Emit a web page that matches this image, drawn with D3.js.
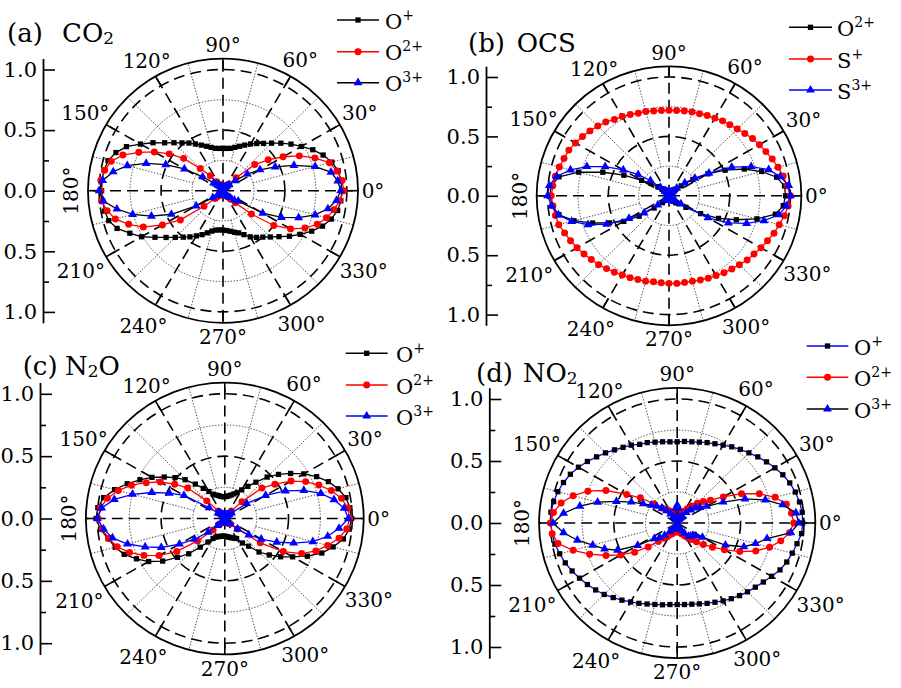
<!DOCTYPE html>
<html><head><meta charset="utf-8">
<script src="https://cdn.jsdelivr.net/npm/d3@7"></script>
<style>body{margin:0;background:#fff}svg{display:block}</style>
</head><body>
<svg id="c" width="901" height="688"></svg>
<script>
// ---------------- DATA ----------------
const angles = d3.range(0, 360, 5);               // polar angle (deg) of every sample
const radialTicks = [-1, -0.5, 0, 0.5, 1];
const radialMinor = [-0.75, -0.25, 0.25, 0.75];
const angleLabels = [0, 30, 60, 90, 120, 150, 180, 210, 240, 270, 300, 330];
const dashedSpokes = [0, 30, 60, 90, 120, 150, 180, 210, 240, 270, 300, 330];
const dottedSpokes = [15, 45, 75, 105, 135, 165, 195, 225, 255, 285, 315, 345];
const dashedRings = [0.5, 1.0];
const dottedRings = [0.25, 0.75];

// (a) CO2
const aOp = [.96,.955,.945,.91,.86,.80,.73,.67,.61,.555,.51,.475,.445,.415,.39,.37,.355,.35,
             .35,.35,.355,.37,.39,.415,.445,.48,.515,.56,.615,.69,.77,.86,.92,.96,.975,.98,
             .98,.975,.97,.955,.91,.83,.76,.67,.60,.545,.50,.465,.43,.40,.37,.345,.33,.325,
             .325,.33,.34,.355,.37,.40,.44,.47,.50,.54,.59,.655,.72,.79,.855,.905,.94,.955];
const aO2 = [.975,.965,.935,.89,.79,.68,.56,.445,.335,.15,.07,.05,.04,.035,.03,.03,.03,.03,
             .03,.03,.03,.035,.04,.05,.06,.09,.16,.26,.415,.53,.64,.75,.86,.935,.97,.99,
             .99,.985,.95,.90,.81,.71,.565,.42,.20,.09,.06,.045,.04,.035,.03,.03,.03,.03,
             .03,.03,.03,.03,.035,.04,.045,.06,.09,.14,.30,.50,.63,.73,.81,.865,.91,.945];
const aO3 = [.95,.93,.885,.77,.61,.465,.345,.24,.13,.07,.05,.04,.035,.03,.03,.025,.025,.025,
             .025,.025,.025,.03,.03,.035,.04,.05,.06,.08,.10,.20,.36,.51,.66,.80,.90,.975,
             1.0,.97,.87,.755,.615,.46,.25,.10,.06,.045,.04,.035,.03,.03,.025,.025,.025,.025,
             .025,.025,.025,.03,.03,.035,.04,.05,.06,.08,.12,.15,.37,.52,.65,.77,.86,.92];
// (b) OCS
const bO2 = [.96,.955,.90,.79,.66,.51,.37,.24,.13,.07,.05,.04,.035,.03,.03,.025,.025,.025,
             .025,.025,.025,.03,.03,.035,.04,.05,.06,.08,.12,.18,.26,.41,.58,.77,.92,.975,
             .98,.965,.92,.81,.67,.54,.43,.30,.16,.08,.05,.04,.035,.03,.025,.025,.025,.025,
             .025,.025,.025,.03,.03,.035,.04,.05,.06,.08,.10,.17,.30,.45,.59,.75,.89,.945];
const bSp = [1.0,.975,.955,.93,.905,.88,.86,.84,.815,.795,.78,.77,.755,.745,.735,.73,.725,.72,
             .72,.72,.725,.735,.74,.755,.77,.785,.81,.83,.85,.87,.89,.91,.92,.935,.95,.96,
             .97,.96,.95,.94,.915,.895,.875,.855,.835,.82,.80,.785,.77,.76,.75,.745,.735,.735,
             .737,.74,.74,.745,.755,.765,.775,.79,.805,.82,.84,.855,.875,.895,.92,.94,.965,.985];
const bS3 = [1.0,.99,.93,.85,.72,.57,.38,.26,.17,.09,.05,.04,.035,.03,.03,.025,.025,.025,
             .025,.025,.025,.03,.03,.035,.04,.05,.05,.10,.20,.31,.435,.58,.72,.84,.94,.99,
             1.0,.97,.925,.83,.71,.567,.38,.25,.12,.05,.045,.04,.035,.03,.025,.025,.025,.025,
             .025,.025,.025,.03,.03,.035,.04,.045,.05,.06,.07,.12,.37,.54,.68,.81,.92,.97];
// (c) N2O
const cOp = [.995,.985,.965,.92,.865,.795,.715,.63,.55,.47,.38,.315,.265,.23,.21,.195,.185,.178,
             .175,.175,.18,.19,.20,.215,.25,.295,.36,.44,.51,.58,.66,.735,.815,.895,.965,1.0,
             1.01,.98,.93,.89,.84,.765,.69,.595,.485,.40,.30,.23,.185,.165,.155,.148,.145,.142,
             .142,.145,.15,.157,.165,.175,.185,.24,.29,.38,.455,.535,.615,.715,.81,.88,.945,.98];
const cO2 = [.98,.97,.93,.865,.785,.70,.60,.48,.38,.19,.08,.05,.04,.035,.03,.03,.03,.03,
             .03,.03,.03,.03,.035,.04,.045,.055,.08,.20,.38,.48,.585,.68,.78,.865,.935,.98,
             .995,.965,.925,.875,.795,.70,.595,.46,.28,.13,.06,.04,.035,.03,.03,.03,.03,.03,
             .03,.03,.03,.03,.03,.035,.04,.045,.05,.06,.13,.34,.53,.665,.76,.835,.91,.96];
const cO3 = [.97,.94,.87,.78,.66,.525,.37,.21,.07,.05,.04,.035,.03,.03,.025,.025,.025,.025,
             .025,.025,.025,.025,.025,.03,.035,.04,.05,.06,.07,.15,.37,.48,.61,.75,.88,.97,
             1.0,.955,.895,.79,.665,.55,.41,.29,.17,.08,.05,.04,.035,.03,.025,.025,.025,.025,
             .025,.025,.025,.025,.03,.03,.035,.04,.045,.06,.13,.23,.33,.45,.575,.715,.82,.90];
// (d) NO2
const dOp = [.99,.99,.98,.965,.945,.92,.89,.86,.83,.80,.775,.75,.725,.705,.69,.675,.665,.66,
             .655,.657,.665,.675,.69,.70,.725,.745,.77,.80,.83,.865,.90,.93,.955,.975,.99,1.0,
             1.0,.99,.98,.96,.94,.915,.89,.865,.84,.815,.785,.76,.735,.715,.695,.68,.67,.66,
             .658,.66,.665,.675,.69,.705,.725,.745,.765,.785,.805,.83,.86,.895,.92,.94,.96,.985];
const dO2 = [.92,.905,.875,.80,.69,.56,.42,.32,.27,.225,.18,.14,.11,.10,.09,.08,.075,.07,
             .07,.07,.075,.08,.09,.10,.11,.125,.145,.17,.24,.355,.46,.62,.75,.85,.93,.98,
             1.0,.99,.955,.85,.735,.62,.515,.41,.30,.21,.16,.135,.11,.095,.085,.075,.07,.07,
             .07,.07,.075,.08,.09,.10,.12,.145,.175,.215,.27,.34,.43,.545,.66,.755,.83,.89];
const dO3 = [.96,.94,.845,.72,.57,.40,.27,.22,.19,.15,.11,.07,.05,.04,.035,.03,.05,.12,
             .145,.12,.04,.03,.035,.04,.06,.09,.13,.17,.21,.25,.31,.40,.51,.65,.78,.90,
             .98,.90,.80,.69,.61,.52,.36,.22,.18,.14,.09,.06,.045,.035,.03,.03,.03,.03,
             .03,.03,.03,.035,.04,.05,.07,.10,.14,.15,.16,.18,.23,.42,.56,.64,.72,.90];

const ionsA = [['O','+'], ['O','2+'], ['O','3+']];
const ionsB = [['O','2+'], ['S','+'], ['S','3+']];
const ionsC = [['O','+'], ['O','2+'], ['O','3+']];
const ionsD = [['O','+'], ['O','2+'], ['O','3+']];

// ---------------- LAYOUT ----------------
const RED = '#ff0000', BLUE = '#0000ff', BLK = '#000000';
const FONT = "'DejaVu Serif', 'Liberation Serif', serif";
const rMax = 1.09, ASPECT = 1.022;
// distance (px) between outer circle and the centre of each angle label
const labelGap = {0:15, 30:23, 60:19.5, 90:14, 120:17.5, 150:24, 180:17, 210:29, 240:24, 270:14, 300:22, 330:27.5};

const panels = [
  {cx:223, cy:190.7, ry:121.2, axisX:43, tag:'(a)', tagX:7, fX:62, tY:41.5,
   formula:[['CO',0],['2',1]], ions:ionsA,
   leg:{x0:337, x1:379, tx:385, ys:[20, 51.7, 82.7]},
   series:[{d:aOp, line:BLK, mark:BLK, sym:'sq'},{d:aO2, line:RED, mark:RED, sym:'ci'},{d:aO3, line:BLK, mark:BLUE, sym:'tr'}]},
  {cx:669, cy:195.8, ry:118.8, axisX:486, tag:'(b)', tagX:468, fX:516.7, tY:51.5,
   formula:[['OCS',0]], ions:ionsB,
   leg:{x0:789, x1:832, tx:837, ys:[27.3, 59, 90]},
   series:[{d:bO2, line:BLK, mark:BLK, sym:'sq'},{d:bSp, line:RED, mark:RED, sym:'ci'},{d:bS3, line:BLUE, mark:BLUE, sym:'tr'}]},
  {cx:224.8, cy:518.5, ry:124.7, axisX:40, tag:'(c)', tagX:22.7, fX:65, tY:375,
   formula:[['N',0],['2',1],['O',0]], ions:ionsC,
   leg:{x0:345.7, x1:387.7, tx:396, ys:[353.3, 385, 416]},
   series:[{d:cOp, line:BLK, mark:BLK, sym:'sq'},{d:cO2, line:RED, mark:RED, sym:'ci'},{d:cO3, line:BLUE, mark:BLUE, sym:'tr'}]},
  {cx:677.2, cy:523, ry:124, axisX:489.3, tag:'(d)', tagX:476, fX:522.7, tY:381.7,
   formula:[['NO',0],['2',1]], ions:ionsD,
   leg:{x0:806.7, x1:848.3, tx:854, ys:[346, 377.3, 409]},
   series:[{d:dOp, line:BLUE, mark:BLK, sym:'sq'},{d:dO2, line:RED, mark:RED, sym:'ci'},{d:dO3, line:BLK, mark:BLUE, sym:'tr'}]}
];

const svg = d3.select('#c');
const symbols = {
  sq: d3.symbol().type(d3.symbolSquare).size(28),
  ci: d3.symbol().type(d3.symbolCircle).size(38),
  tr: d3.symbol().type(d3.symbolTriangle).size(34)
};
const rad = a => a * Math.PI / 180;

function drawPanel(P) {
  const g = svg.append('g');
  const uy = P.ry, ux = P.ry * ASPECT;
  const X = d3.scaleLinear().domain([-rMax, rMax]).range([P.cx - ux*rMax, P.cx + ux*rMax]);
  const Y = d3.scaleLinear().domain([-rMax, rMax]).range([P.cy + uy*rMax, P.cy - uy*rMax]);
  const px = (r, a) => X(r * Math.cos(rad(a)));
  const py = (r, a) => Y(r * Math.sin(rad(a)));

  const grid = g.append('g');
  dottedRings.forEach(r => grid.append('ellipse').attr('cx', P.cx).attr('cy', P.cy)
    .attr('rx', ux*r).attr('ry', uy*r).attr('fill','none').attr('stroke','#222')
    .attr('stroke-width',0.8).attr('stroke-dasharray','1.4,1.6'));
  dottedSpokes.forEach(a => grid.append('line')
    .attr('x1', px(0.25,a)).attr('y1', py(0.25,a)).attr('x2', px(rMax,a)).attr('y2', py(rMax,a))
    .attr('stroke','#222').attr('stroke-width',0.8).attr('stroke-dasharray','1.4,1.6'));
  dashedRings.forEach(r => grid.append('ellipse').attr('cx', P.cx).attr('cy', P.cy)
    .attr('rx', ux*r).attr('ry', uy*r).attr('fill','none').attr('stroke','#000')
    .attr('stroke-width',1.6).attr('stroke-dasharray','11,6'));
  dashedSpokes.forEach(a => grid.append('line')
    .attr('x1', px(0,a)).attr('y1', py(0,a)).attr('x2', px(rMax,a)).attr('y2', py(rMax,a))
    .attr('stroke','#000').attr('stroke-width',1.6).attr('stroke-dasharray','11,6'));
  angleLabels.forEach(a => grid.append('line')
    .attr('x1', px(rMax,a)).attr('y1', py(rMax,a)).attr('x2', px(rMax-0.09,a)).attr('y2', py(rMax-0.09,a))
    .attr('stroke','#000').attr('stroke-width',1.6));
  g.append('ellipse').attr('cx', P.cx).attr('cy', P.cy).attr('rx', ux*rMax).attr('ry', uy*rMax)
    .attr('fill','none').attr('stroke','#000').attr('stroke-width',1.8);

  // left radial axis
  const ax = g.append('g').attr('transform', `translate(${P.axisX},0)`)
    .call(d3.axisLeft(Y).tickValues(radialTicks).tickFormat(d => d3.format('.1f')(Math.abs(d)))
      .tickSizeInner(-12).tickSizeOuter(0).tickPadding(6));
  ax.attr('font-family', FONT).attr('font-size', 21);
  ax.select('.domain').attr('stroke-width', 1.8);
  ax.selectAll('.tick line').attr('stroke-width', 1.6);
  const axm = g.append('g').attr('transform', `translate(${P.axisX},0)`)
    .call(d3.axisLeft(Y).tickValues(radialMinor).tickFormat('').tickSizeInner(-6).tickSizeOuter(0));
  axm.select('.domain').remove();
  axm.selectAll('.tick line').attr('stroke-width', 1.6);

  // angle labels
  angleLabels.forEach(a => {
    const t = g.append('text').attr('font-family', FONT).attr('font-size', 20)
      .attr('text-anchor','middle').text(a + '°');
    const c = Math.cos(rad(a)), s = Math.sin(rad(a)), gap = labelGap[a];
    const x = P.cx + (ux*rMax + gap) * c;
    const y = P.cy - (uy*rMax + gap) * s;
    if (a === 180) t.attr('transform', `translate(${x},${y}) rotate(-90)`).attr('dy','0.36em');
    else t.attr('x', x).attr('y', y).attr('dy','0.36em');
  });

  // data
  P.series.forEach(S => {
    const pts = angles.map((a, i) => [px(S.d[i], a), py(S.d[i], a)]);
    g.append('path').attr('d', d3.line().curve(d3.curveLinearClosed)(pts))
      .attr('fill','none').attr('stroke', S.line).attr('stroke-width', 1.3);
    g.append('g').selectAll('path').data(pts).join('path')
      .attr('transform', p => `translate(${p[0]},${p[1]})`)
      .attr('d', symbols[S.sym]).attr('fill', S.mark);
  });

  // legend
  P.series.forEach((S, i) => {
    const y = P.leg.ys[i];
    g.append('line').attr('x1', P.leg.x0).attr('x2', P.leg.x1).attr('y1', y).attr('y2', y)
      .attr('stroke', S.line).attr('stroke-width', 1.5);
    g.append('path').attr('transform', `translate(${(P.leg.x0+P.leg.x1)/2},${y})`)
      .attr('d', symbols[S.sym]).attr('fill', S.mark);
    const t = g.append('text').attr('font-family', FONT).attr('font-size', 21)
      .attr('x', P.leg.tx).attr('y', y + 8.5);
    t.append('tspan').text(P.ions[i][0]);
    t.append('tspan').attr('font-size', 14).attr('dy', -9).text(P.ions[i][1]);
  });

  // title
  g.append('text').attr('font-family', FONT).attr('font-size', 26)
    .attr('x', P.tagX).attr('y', P.tY).text(P.tag);
  const ft = g.append('text').attr('font-family', FONT).attr('font-size', 26)
    .attr('x', P.fX).attr('y', P.tY);
  let lowered = false;
  P.formula.forEach(([s, sub]) => {
    const sp = ft.append('tspan').text(s);
    if (sub) { sp.attr('font-size', 17).attr('dy', 2); lowered = true; }
    else if (lowered) { sp.attr('dy', -2); lowered = false; }
  });
}
panels.forEach(drawPanel);
</script>
</body></html>
